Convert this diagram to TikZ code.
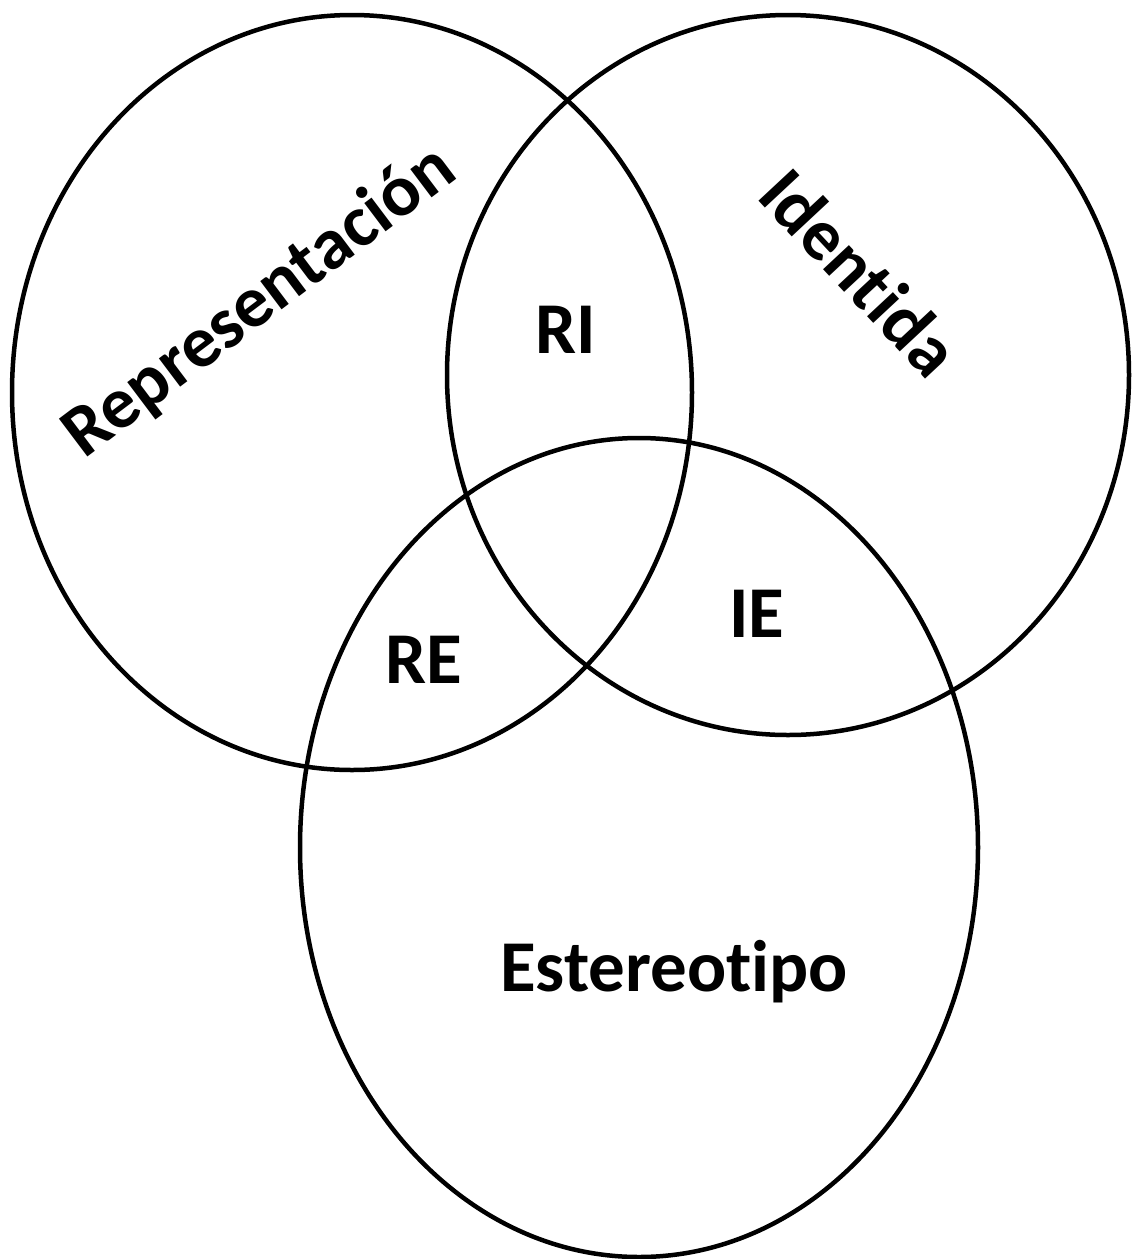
\documentclass[tikz,border=0pt]{standalone}
\usepackage{fontspec}
\setmainfont{Carlito}[RawFeature=-liga]
\begin{document}
\begin{tikzpicture}[x=1pt,y=-1pt,
  ring/.style={draw=black,line width=4.5pt},
  lbl/.style={font=\fontsize{73}{86}\selectfont\bfseries,inner sep=0pt}]
\useasboundingbox (0,0) rectangle (1133,1259);
\draw[ring] (352,392.5) ellipse [x radius=340, y radius=377.5];
\draw[ring] (788,375) ellipse [x radius=341, y radius=360];
\draw[ring] (639,847.5) ellipse [x radius=339, y radius=409.5];
\node[lbl,rotate=37] (rep) at (260,302) {Representación};
\node[lbl,rotate=-47] (ide) at (860,272) {Identida};
\node[lbl] (ri) at (566,330) {RI};
\node[lbl] (re) at (424,660) {RE};
\node[lbl] (ie) at (757,614) {IE};
\node[lbl] (est) at (674,972) {Estereotipo};
\end{tikzpicture}
\end{document}
